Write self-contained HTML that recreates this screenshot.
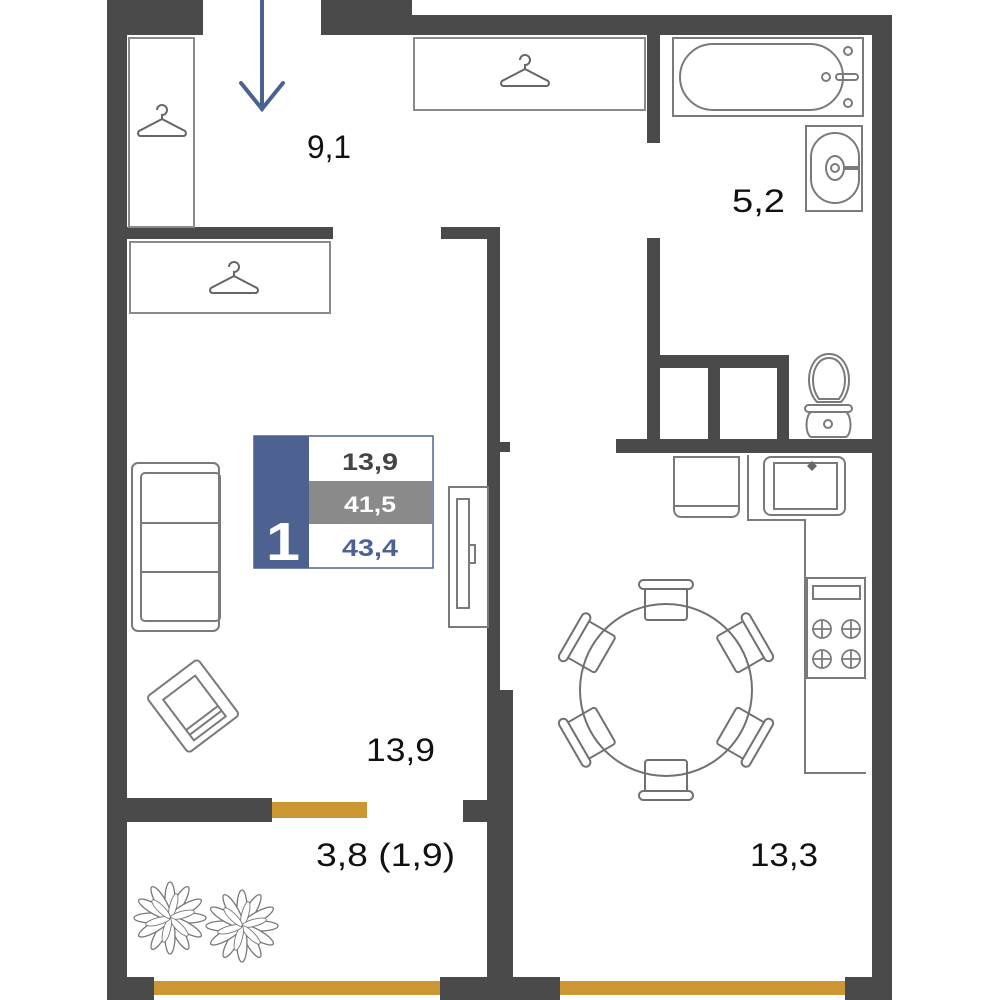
<!DOCTYPE html>
<html><head><meta charset="utf-8"><style>
html,body{margin:0;padding:0;background:#fff;width:1000px;height:1000px;overflow:hidden}
svg{display:block}
text{font-family:"Liberation Sans",sans-serif}
</style></head><body>
<svg width="1000" height="1000" viewBox="0 0 1000 1000" xmlns="http://www.w3.org/2000/svg">
<defs>
<g id="hanger" fill="none" stroke="#666" stroke-width="2">
<path d="M-3,-10 a5,5 0 1 1 5,5 v4 l23,12 a3,3 0 0 1 -1,5 h-44 a3,3 0 0 1 -1,-5 l23,-12"/>
</g>
<g id="chair" fill="#fff" stroke="#707070" stroke-width="2">
<rect x="-21" y="-13" width="42" height="33" rx="3"/>
<rect x="-27" y="-20" width="54" height="9" rx="4.5"/>
</g>
<g id="leaf" fill="#fff" stroke="#777" stroke-width="1.3">
<ellipse cx="0" cy="-18" rx="5" ry="18"/>
</g>
<g id="plant">
<use href="#leaf" transform="rotate(0)"/><use href="#leaf" transform="rotate(30)"/><use href="#leaf" transform="rotate(60)"/><use href="#leaf" transform="rotate(90)"/><use href="#leaf" transform="rotate(120)"/><use href="#leaf" transform="rotate(150)"/><use href="#leaf" transform="rotate(180)"/><use href="#leaf" transform="rotate(210)"/><use href="#leaf" transform="rotate(240)"/><use href="#leaf" transform="rotate(270)"/><use href="#leaf" transform="rotate(300)"/><use href="#leaf" transform="rotate(330)"/>
<use href="#leaf" transform="rotate(15) scale(.7)"/><use href="#leaf" transform="rotate(75) scale(.7)"/><use href="#leaf" transform="rotate(135) scale(.7)"/><use href="#leaf" transform="rotate(195) scale(.7)"/><use href="#leaf" transform="rotate(255) scale(.7)"/><use href="#leaf" transform="rotate(315) scale(.7)"/>
</g>
</defs>

<g fill="#4a4a4a">
<rect x="107" y="0" width="20" height="1000"/>
<rect x="107" y="0" width="96" height="35"/>
<rect x="321" y="0" width="91" height="35"/>
<rect x="412" y="15" width="480" height="20"/>
<rect x="872" y="15" width="20" height="985"/>
<rect x="647" y="35" width="13" height="108"/>
<rect x="647" y="238" width="13" height="202"/>
<rect x="616" y="439" width="256" height="14"/>
<rect x="647" y="355" width="142" height="13"/>
<rect x="708" y="355" width="12" height="85"/>
<rect x="777" y="355" width="12" height="85"/>
<rect x="127" y="227" width="206" height="12"/>
<rect x="441" y="227" width="59" height="12"/>
<rect x="487" y="227" width="13" height="470"/>
<rect x="500" y="442" width="10" height="10"/>
<rect x="487" y="690" width="26" height="310"/>
<rect x="127" y="798" width="145" height="24"/>
<rect x="463" y="800" width="24" height="22"/>
<rect x="107" y="977" width="47" height="23"/>
<rect x="440" y="977" width="120" height="23"/>
<rect x="845" y="977" width="47" height="23"/>
</g>
<g fill="#cc9632">
<rect x="272" y="802" width="95" height="16"/>
<rect x="154" y="981" width="286" height="14"/>
<rect x="560" y="981" width="285" height="14"/>
</g>

<g stroke="#4a6191" stroke-width="4" fill="none" stroke-linecap="round">
<line x1="262" y1="0" x2="262" y2="109"/>
<polyline points="241,83 262,109 283,83"/>
</g>

<g fill="none" stroke="#8a8a8a" stroke-width="2">
<rect x="129" y="38" width="65" height="189"/>
<rect x="130" y="242" width="200" height="71"/>
<rect x="414" y="38" width="231" height="72"/>
</g>
<use href="#hanger" x="160" y="120"/>
<use href="#hanger" x="232" y="277"/>
<use href="#hanger" x="523" y="70"/>

<g fill="none" stroke="#7a7a7a" stroke-width="2">
<rect x="673" y="38" width="190" height="78"/>
<rect x="680" y="44" width="163" height="66" rx="33"/>
<circle cx="848" cy="51" r="4"/><circle cx="826" cy="77" r="4"/><circle cx="848" cy="103" r="4"/>
<rect x="836" y="74" width="22" height="6" rx="3"/>
<rect x="806" y="126" width="56" height="85"/>
<rect x="811" y="133" width="48" height="70" rx="24"/>
<ellipse cx="835" cy="168" rx="9" ry="12"/><circle cx="835" cy="168" r="4"/>
<line x1="844" y1="168" x2="860" y2="168" stroke-width="4"/>
<path d="M829,354 c-14,0 -20,14 -20,26 c0,10 4,18 8,22 h24 c4,-4 8,-12 8,-22 c0,-12 -6,-26 -20,-26z"/>
<path d="M829,358 c-11,0 -16,12 -16,22 c0,9 3,15 6,19 h20 c3,-4 6,-10 6,-19 c0,-10 -5,-22 -16,-22z"/>
<rect x="805" y="405" width="47" height="7" rx="3.5"/>
<path d="M811,412 h35 c6,4 6,22 0,25 h-35 c-6,-3 -6,-21 0,-25z"/>
<circle cx="828" cy="424" r="4"/>
</g>

<g fill="none" stroke="#7a7a7a" stroke-width="2">
<path d="M674,457 h65 v52 c0,5 -3,8 -8,8 h-49 c-5,0 -8,-3 -8,-8z"/>
<line x1="674" y1="506" x2="739" y2="506"/>
<path d="M748,455 v65 h57 v253 h61"/>
<rect x="764" y="457" width="81" height="58" rx="7"/>
<rect x="774" y="463" width="63" height="46"/>
<rect x="807" y="578" width="58" height="100"/>
<rect x="813" y="586" width="47" height="13"/>
<g stroke-width="1.8">
<circle cx="822" cy="629" r="9"/><circle cx="851" cy="629" r="9"/><circle cx="822" cy="659" r="9"/><circle cx="851" cy="659" r="9"/>
<path d="M813,629h18M822,620v18M842,629h18M851,620v18M813,659h18M822,650v18M842,659h18M851,650v18"/>
</g>
</g>
<path d="M807,466 l5,-5 l5,5 l-5,5z" fill="#666"/>

<g transform="translate(666,690)">
<use href="#chair" transform="rotate(0) translate(0,-90)"/>
<use href="#chair" transform="rotate(60) translate(0,-90)"/>
<use href="#chair" transform="rotate(120) translate(0,-90)"/>
<use href="#chair" transform="rotate(180) translate(0,-90)"/>
<use href="#chair" transform="rotate(240) translate(0,-90)"/>
<use href="#chair" transform="rotate(300) translate(0,-90)"/>
<circle r="86" fill="none" stroke="#707070" stroke-width="2"/>
</g>

<g fill="none" stroke="#7a7a7a" stroke-width="2">
<rect x="132" y="463" width="87" height="168" rx="6"/>
<rect x="141" y="473" width="79" height="148" rx="4"/>
<line x1="141" y1="523" x2="220" y2="523"/><line x1="141" y1="572" x2="220" y2="572"/>
<rect x="449" y="487" width="39" height="140"/>
<rect x="457" y="499" width="12" height="109"/>
<rect x="469" y="545" width="6" height="18"/>
<g transform="translate(193,706) rotate(-37)">
<rect x="-32" y="-35" width="64" height="70" rx="4"/>
<rect x="-20" y="-23" width="40" height="51"/>
<line x1="-20" y1="15" x2="20" y2="15"/><line x1="-20" y1="21" x2="20" y2="21"/>
</g>
</g>

<use href="#plant" transform="translate(170,918)"/>
<use href="#plant" transform="translate(242,926)"/>

<rect x="254" y="436" width="179" height="132" fill="#fff" stroke="#4d6291" stroke-width="1.5"/>
<rect x="254" y="436" width="55" height="132" fill="#4d6291"/>
<rect x="309" y="481" width="123" height="43" fill="#8a8a8a"/>
<text x="266" y="560" font-size="54" font-weight="bold" fill="#fff" textLength="34" lengthAdjust="spacingAndGlyphs">1</text>
<text x="342" y="470" font-size="24" font-weight="bold" fill="#444" textLength="56" lengthAdjust="spacingAndGlyphs">13,9</text>
<text x="344" y="512" font-size="22" font-weight="bold" fill="#fff" textLength="52" lengthAdjust="spacingAndGlyphs">41,5</text>
<text x="342" y="556" font-size="24" font-weight="bold" fill="#4d6291" textLength="56" lengthAdjust="spacingAndGlyphs">43,4</text>

<g font-size="32" fill="#111">
<text x="307" y="158" textLength="44" lengthAdjust="spacingAndGlyphs">9,1</text>
<text x="732" y="212" textLength="53" lengthAdjust="spacingAndGlyphs">5,2</text>
<text x="366" y="761" textLength="69" lengthAdjust="spacingAndGlyphs">13,9</text>
<text x="316" y="866" textLength="139" lengthAdjust="spacingAndGlyphs">3,8 (1,9)</text>
<text x="750" y="866" textLength="68" lengthAdjust="spacingAndGlyphs">13,3</text>
</g>
</svg>
</body></html>
